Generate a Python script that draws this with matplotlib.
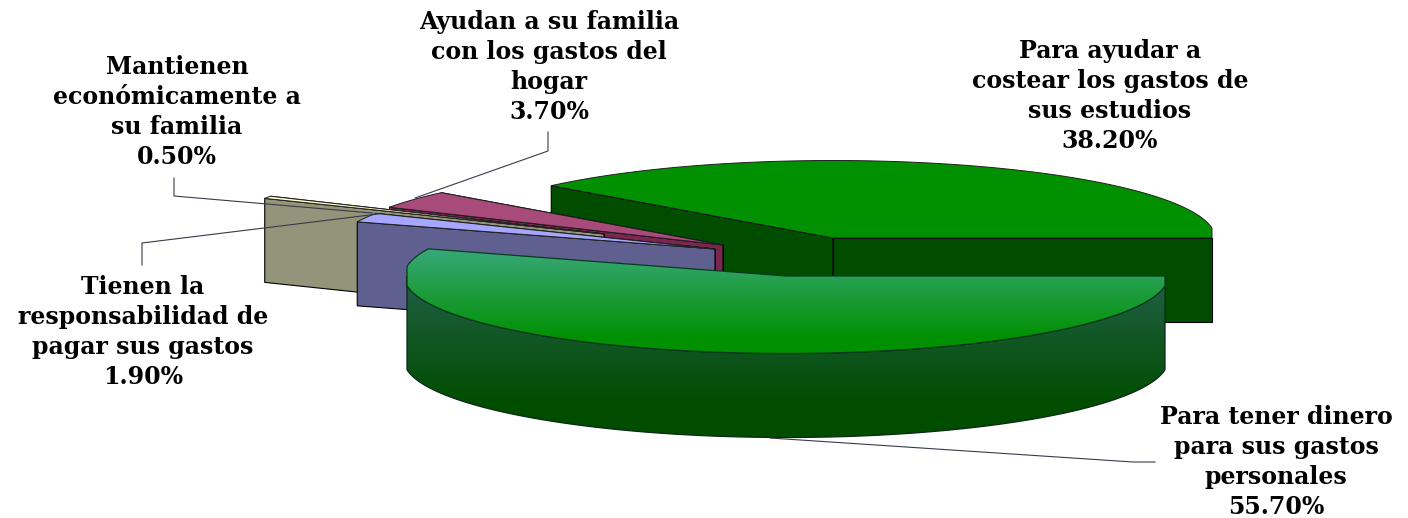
import numpy as np
import matplotlib
matplotlib.use('Agg')
import matplotlib.pyplot as plt
from matplotlib.patches import Polygon

# Slices in the order they go round the pie, counter-clockwise from 3 o'clock
labels = [
    'Para ayudar a\ncostear los gastos de\nsus estudios',
    'Ayudan a su familia\ncon los gastos del\nhogar',
    'Mantienen\neconómicamente a\nsu familia',
    'Tienen la\nresponsabilidad de\npagar sus gastos',
    'Para tener dinero\npara sus gastos\npersonales',
]
values = [38.2, 3.7, 0.5, 1.9, 55.7]

# Layout in image pixels
centers = [(833, 238), (723, 245), (604, 234), (715, 249), (786, 276)]
label_pos = [(1110, 96), (549, 67), (177, 112), (143, 332), (1276, 462)]
top_colors = ['#009000', '#A84B7B', '#FFFFCC', '#A6A6FF', None]
side_colors = ['#004D00', '#7A2750', '#94947A', '#5F5F90', None]
RX, RY, DEPTH = 382, 77.5, 84
XLIM = 379

fig = plt.figure(figsize=(14.08, 5.18), dpi=100)
ax = fig.add_axes([0, 0, 1, 1])

# Slice angles come straight from the values
edges = np.concatenate([[0], np.cumsum(values)]) / np.sum(values) * 2 * np.pi


def arc(i, a0, a1, n=200):
    t = np.linspace(a0, a1, n)
    cx, cy = centers[i]
    # the original ellipse is cut flat at its left and right ends
    x = cx + np.clip(RX * np.cos(t), -XLIM, XLIM)
    y = cy - RY * np.sin(t)
    return np.column_stack([x, y])


def gradient_fill(poly, y0, y1, c0, c1, z):
    # colour runs from c0 at y0 to c1 at y1 and stays flat outside that band
    ys = np.linspace(poly[:, 1].min(), poly[:, 1].max(), 256)
    steps = np.clip((ys - y0) / (y1 - y0), 0, 1)[:, None]
    c0 = np.array(matplotlib.colors.to_rgb(c0))
    c1 = np.array(matplotlib.colors.to_rgb(c1))
    img = (c0 + (c1 - c0) * steps)[:, None, :]
    xs = poly[:, 0]
    im = ax.imshow(img, extent=[xs.min(), xs.max(), ys[-1], ys[0]], origin='upper',
                   aspect='auto', zorder=z, interpolation='bilinear')
    patch = Polygon(poly, closed=True, transform=ax.transData, fc='none', ec='none')
    ax.add_patch(patch)
    im.set_clip_path(patch)


def radial_side(i, angle):
    cx, cy = centers[i]
    p = arc(i, angle, angle, 1)[0]
    return np.array([p, (cx, cy), (cx, cy + DEPTH), (p[0], p[1] + DEPTH)])


for i in range(len(values)):
    a0, a1 = edges[i], edges[i + 1]
    base = 10 + i * 5
    cx, cy = centers[i]
    top = np.vstack([[cx, cy], arc(i, a0, a1)])
    if i == 4:
        # big slice: only the front of the rim shows, with a vertical shading
        rim = arc(i, np.pi, 2 * np.pi)
        side = np.vstack([rim, (rim + [0, DEPTH])[::-1]])
        gradient_fill(side, 285, 405, '#1F5F42', '#004D00', base)
        ax.add_patch(Polygon(side, closed=True, fc='none', ec='#0A2A14', lw=0.9, zorder=base + 1))
        gradient_fill(top, 250, 340, '#38A878', '#009000', base + 2)
        ax.add_patch(Polygon(top, closed=True, fc='none', ec='#0A3A20', lw=0.9, zorder=base + 3))
    else:
        first, second = (a1, a0) if i == 0 else (a0, a1)
        ax.add_patch(Polygon(radial_side(i, first), closed=True, fc=side_colors[i], ec='black', lw=0.8, zorder=base))
        ax.add_patch(Polygon(radial_side(i, second), closed=True, fc=side_colors[i], ec='black', lw=0.8, zorder=base + 1))
        ax.add_patch(Polygon(top, closed=True, fc=top_colors[i], ec='#202020', lw=0.7, zorder=base + 2))

# Leader lines from the labels to their slices
leaders = [
    [(174, 178), (174, 196), (372, 213)],
    [(142, 265), (142, 243), (378, 214)],
    [(548, 132), (548, 151), (415, 198)],
    [(770, 438), (1133, 462), (1155, 462)],
]
for pts in leaders:
    xs, ys = zip(*pts)
    ax.plot(xs, ys, color='#3A3A4A', lw=0.8, zorder=60)

for i in range(len(values)):
    txt = f'{labels[i]}\n{values[i]:.2f}%'
    ax.text(label_pos[i][0], label_pos[i][1], txt, ha='center', va='center',
            family='DejaVu Serif', fontweight='bold', fontsize=17,
            linespacing=1.3, color='black', zorder=70)

ax.set_xlim(0, 1408)
ax.set_ylim(518, 0)
ax.axis('off')
fig.savefig('out.png', dpi=100, facecolor='white')
